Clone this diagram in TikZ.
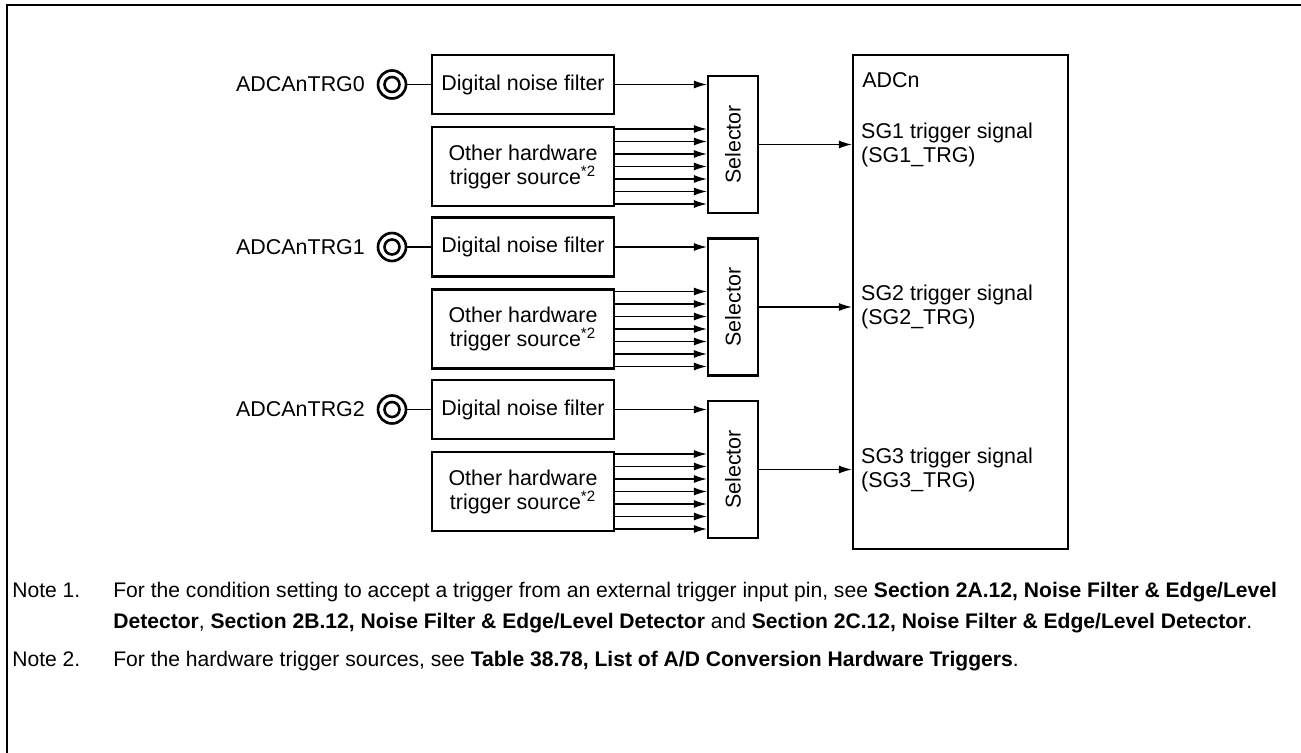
\documentclass[tikz,border=0pt]{standalone}
\usepackage{fontspec}
\usepackage{graphicx}
\setmainfont{Liberation Sans}
\usetikzlibrary{arrows.meta}

\begin{document}
\begin{tikzpicture}[x=0.02cm, y=-0.02cm, font=\fontsize{12.2}{13.7}\selectfont,
    box/.style={draw, line width=1.3pt, inner sep=0pt, align=center},
    sig/.style={-{Latex[length=2.6mm,width=1.6mm]}, line width=0.7pt},
    wire/.style={line width=0.7pt},
    pinring/.style={circle, draw, line width=1.5pt, minimum size=0.56cm, inner sep=0pt},
    txt/.style={inner sep=0pt},
    notetxt/.style={inner sep=0pt, anchor=base west, font=\fontsize{12}{13.7}\selectfont}]
  \useasboundingbox (0,0) rectangle (1301,753);
  % frame
  \draw[line width=1.3pt] (1301,5) -- (7,5) -- (7,753);
  % ADC block
  \node[box, minimum width=4.3cm, minimum height=9.88cm] (adc) at (960.5,302) {};
  \node[txt, anchor=west] (adcname) at (862,80) {ADCn};
  % three trigger groups
  \foreach \g/\dy/\n in {0/0/1, 1/162.5/2, 2/325/3} {
    \node[pinring] (pin\g) at (392,84.5+\dy) {};
    \draw[line width=1.5pt] (pin\g.center) circle[radius=1.5mm];
    \node[txt, anchor=east, xshift=-0.23cm] (lbl\g) at (pin\g.west) {ADCAnTRG\g};
    \node[box, minimum width=3.64cm, minimum height=1.18cm] (filt\g) at (523,84.5+\dy) {Digital noise filter};
    \node[box, minimum width=3.64cm, minimum height=1.58cm] (src\g) at (523,166.5+\dy) {Other hardware\\trigger source\textsuperscript{*2}};
    \node[box, minimum width=1cm, minimum height=2.74cm] (sel\g) at (733,144.5+\dy) {\rotatebox{90}{Selector}};
    \draw[wire] (pin\g) -- (filt\g);
    \draw[sig] (filt\g.east) -- (sel\g.west |- filt\g.east);
    \foreach \k in {-3,...,3} {
      \pgfmathsetmacro\yy{166.5+\dy+12.5*\k}
      \draw[sig] (src\g.east |- 0,\yy) -- (sel\g.west |- 0,\yy);
    }
    \draw[sig] (sel\g.east) -- (adc.west |- sel\g.east);
    \node[txt, anchor=west, align=left, xshift=0.18cm] (sg\n) at (adc.west |- sel\g.east) {SG\n{} trigger signal\\(SG\n\_TRG)};
  }
  % notes
  \node[notetxt] (note1) at (12,597) {Note 1.};
  \node[notetxt] (note1a) at (113,597) {For the condition setting to accept a trigger from an external trigger input pin, see \textbf{Section 2A.12, Noise Filter \& Edge/Level}};
  \node[notetxt] (note1b) at (113,628) {\textbf{Detector}, \textbf{Section 2B.12, Noise Filter \& Edge/Level Detector} and \textbf{Section 2C.12, Noise Filter \& Edge/Level Detector}.};
  \node[notetxt] (note2) at (12,666) {Note 2.};
  \node[notetxt] (note2a) at (113,666) {For the hardware trigger sources, see \textbf{Table 38.78, List of A/D Conversion Hardware Triggers}.};
\end{tikzpicture}
\end{document}
